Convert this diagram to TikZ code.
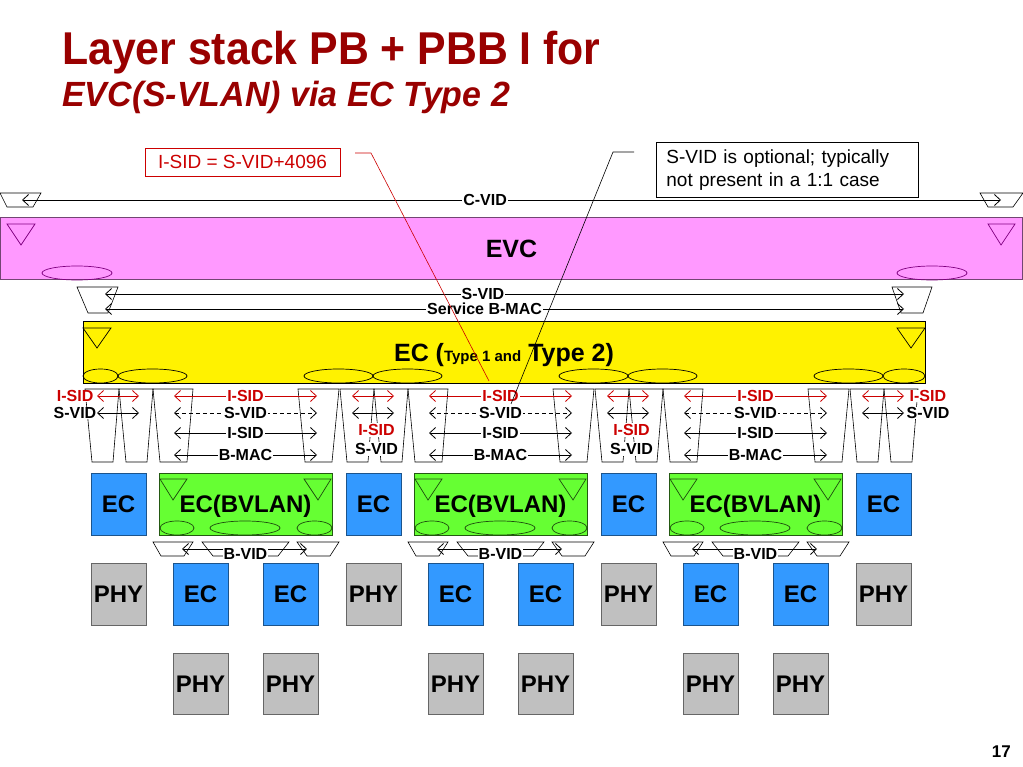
\documentclass[tikz,border=0pt]{standalone}
\usepackage{fontspec}
\setmainfont{Liberation Sans}
\usepackage{graphicx}
\usepackage{tikz}
\usetikzlibrary{arrows.meta}
\definecolor{titlered}{RGB}{153,0,0}
\definecolor{sidred}{RGB}{204,0,0}
\definecolor{evcpink}{RGB}{255,153,255}
\definecolor{evcline}{RGB}{128,0,128}
\definecolor{ecblue}{RGB}{51,153,255}
\definecolor{bvgreen}{RGB}{102,255,51}
\definecolor{phygray}{RGB}{192,192,192}
\tikzset{>={Straight Barb[length=6pt,width=11pt]}}
\tikzset{
    box/.style={rectangle,draw,line width=0.8pt,minimum width=55pt,minimum height=62pt,inner sep=0pt,text height=17.2pt,text depth=0pt,font=\bfseries\fontsize{24}{24}\selectfont},
    ecbox/.style={box,fill=ecblue,draw=ecblue!55!black},
    phybox/.style={box,fill=phygray,draw=black!60},
    bvbox/.style={box,fill=bvgreen,draw=bvgreen!35!black,minimum width=173pt},
    band/.style={rectangle,line width=0.8pt,inner sep=0pt,minimum height=62pt,font=\bfseries\fontsize{25}{25}\selectfont},
    lbl/.style={fill=white,inner sep=1pt,font=\bfseries\fontsize{16}{16}\selectfont},
    redlbl/.style={lbl,text=sidred},
    link/.style={<->,line width=0.8pt},
    redlink/.style={link,draw=sidred},
    dashlink/.style={link,dash pattern=on 4pt off 3pt},
    adapt/.style={draw,line width=0.6pt},
    note/.style={rectangle,draw,line width=0.8pt,inner sep=0pt,font=\fontsize{19}{23}\selectfont},
}
\begin{document}
\begin{tikzpicture}[x=1pt,y=-1pt]
\useasboundingbox[fill=white] (0,0) rectangle (1023,767);
\node[anchor=base west,inner sep=0pt,text=titlered,font=\bfseries\fontsize{46}{46}\selectfont] (title) at (62,65) {\scalebox{0.93}[1]{Layer stack PB + PBB I for}};
\node[anchor=base west,inner sep=0pt,text=titlered,font=\bfseries\itshape\fontsize{35}{35}\selectfont] (subtitle) at (62,107) {\scalebox{0.97}[1]{EVC(S-VLAN) via EC Type 2}};
\node[note,draw=sidred,text=sidred,minimum width=195pt,minimum height=28pt] (sidnote) at (242.5,162) {I-SID = S-VID+4096};
\node[note,anchor=north west,text width=242pt,inner xsep=10pt,minimum height=55pt,align=left] (optnote) at (656,142) {S-VID is optional; typically\\not present in a 1:1 case};
% C-VID
\draw[adapt] (0,193) -- (41,193) -- (33,207) -- (7,207) -- cycle;
\draw[adapt] (980,193) -- (1023,193) -- (1013,207) -- (988,207) -- cycle;
\coordinate (cvidL) at (22,200);
\coordinate (cvidR) at (1001,200);
\draw[link] (cvidL) -- node[lbl,pos=0.473] (cvid) {C-VID} (cvidR);
% EVC
\node[band,fill=evcpink,draw=evcpink!45!black,minimum width=1022pt] (evc) at (511.5,248.5) {EVC};
\draw[evcline,line width=0.7pt] (7,224) -- (35,224) -- (21,245) -- cycle;
\draw[evcline,line width=0.7pt] (988,224) -- (1015,224) -- (1001,245) -- cycle;
\draw[evcline,line width=0.7pt] (77,273) ellipse [x radius=35pt,y radius=7pt];
\draw[evcline,line width=0.7pt] (932,273) ellipse [x radius=35pt,y radius=7pt];
% S-VID and Service B-MAC
\draw[adapt] (77,287) -- (118,287) -- (108,313) -- (88,313) -- cycle;
\draw[adapt] (892,287) -- (932,287) -- (923,313) -- (901,313) -- cycle;
\coordinate (svidL) at (105,294);
\coordinate (svidR) at (904,294);
\coordinate (smacL) at (105,309);
\coordinate (smacR) at (904,309);
\draw[link] (svidL) -- node[lbl,pos=0.473] (svid) {S-VID} (svidR);
\draw[link] (smacL) -- node[lbl,pos=0.475] (smac) {Service B-MAC} (smacR);
% EC type 1 and type 2
\node[band,fill=yellow,draw=black,minimum width=842pt] (ecband) at (504,352) {};
\node[anchor=base,inner sep=0pt,font=\bfseries\fontsize{25}{25}\selectfont] (ectext) at (504,362) {EC ({\fontsize{15}{15}\selectfont Type 1 and} Type 2)};
\draw[line width=0.7pt] (83,328) -- (111,328) -- (97,348) -- cycle;
\draw[line width=0.7pt] (897,328) -- (925,328) -- (911,348) -- cycle;
\foreach \a/\b in {83/118,118/187,304/373,373/442,559/628,628/697,814/883,883/925}
    \draw[line width=0.7pt] ({(\a+\b)/2},376) ellipse [x radius={(\b-\a)/2*1pt},y radius=7pt];
% adaptation towards the lower layer
\foreach \k in {0,...,3}{
    \begin{scope}[shift={(255*\k,0)}]
        \draw[adapt] (85,389) -- (119,389) -- (113,462) -- (92,462) -- cycle;
        \draw[adapt] (119,389) -- (153,389) -- (147,462) -- (126,462) -- cycle;
    \end{scope}
}
\foreach \k in {0,...,2}{
    \begin{scope}[shift={(255*\k,0)}]
        \draw[adapt] (153,389) -- (193,389) -- (187,462) -- (160,462) -- cycle;
        \draw[adapt] (298,389) -- (339,389) -- (332,462) -- (305,462) -- cycle;
    \end{scope}
}
\foreach \k in {0,...,3}{
    \begin{scope}[shift={(255*\k,0)}]
        \coordinate (isidL\k) at (97,396);
        \coordinate (isidR\k) at (139,396);
        \coordinate (svidL\k) at (97,413);
        \coordinate (svidR\k) at (139,413);
        \draw[redlink] (isidL\k) -- (isidR\k);
        \draw[link] (svidL\k) -- (svidR\k);
    \end{scope}
}
\node[redlbl,anchor=east,inner sep=0.5pt,xshift=-3pt] (isidlab0) at (isidL0) {I-SID};
\node[lbl,anchor=east,inner sep=0.5pt] (svidlab0) at (svidL0) {S-VID};
\node[redlbl,anchor=west,inner sep=0.5pt,xshift=5pt] (isidlab3) at (isidR3) {I-SID};
\node[lbl,anchor=west,inner sep=0.5pt,xshift=2pt] (svidlab3) at (svidR3) {S-VID};
\foreach \k in {1,2}{
    \node[redlbl] (isidlab\k) at ({121.5+255*\k},430) {I-SID};
    \node[lbl] (svidlab\k) at ({121.5+255*\k},449) {S-VID};
}
\foreach \k in {0,...,2}{
    \begin{scope}[shift={(255*\k,0)}]
        \foreach \y/\t/\s/\l in {396/I-SID/redlink/redlbl,413/S-VID/dashlink/lbl,433/I-SID/link/lbl,455/B-MAC/link/lbl}{
            \coordinate (gl\k\y) at (174,\y);
            \coordinate (gr\k\y) at (317,\y);
            \draw[\s] (gl\k\y) -- node[\l] {\t} (gr\k\y);
        }
    \end{scope}
}
% boxes
\foreach \k in {0,...,3}{
    \node[ecbox] (ec\k) at ({118.5+255*\k},504) {EC};
    \node[phybox] (phy\k) at ({118.5+255*\k},594) {PHY};
}
\foreach \k in {0,...,2}{
    \node[bvbox] (bvlan\k) at ({245.5+255*\k},504) {EC(BVLAN)};
    \node[ecbox] (eca\k) at ({200.5+255*\k},594) {EC};
    \node[ecbox] (ecb\k) at ({290.5+255*\k},594) {EC};
    \node[phybox,minimum height=61pt] (phya\k) at ({200.5+255*\k},683.5) {PHY};
    \node[phybox,minimum height=61pt] (phyb\k) at ({290.5+255*\k},683.5) {PHY};
    \begin{scope}[shift={(255*\k,0)},bvgreen!30!black,line width=0.7pt]
        \draw (160,479) -- (187,479) -- (173,500) -- cycle;
        \draw (304,479) -- (331,479) -- (318,500) -- cycle;
        \draw (177,528) ellipse [x radius=17pt,y radius=7pt];
        \draw (245,528) ellipse [x radius=35pt,y radius=7pt];
        \draw (314.5,528) ellipse [x radius=17.5pt,y radius=7pt];
    \end{scope}
    \begin{scope}[shift={(255*\k,0)}]
        \draw[adapt] (153,542) -- (193,542) -- (184,556) -- (161,556) -- cycle;
        \draw[adapt] (202,542) -- (289,542) -- (278,556) -- (213,556) -- cycle;
        \draw[adapt] (297,542) -- (339,542) -- (330,556) -- (307,556) -- cycle;
        \coordinate (bvidL\k) at (182,549);
        \coordinate (bvidR\k) at (307,549);
        \draw[link] (bvidL\k) -- (bvidR\k);
        \node[lbl,inner sep=0.5pt] (bvid\k) at (245.5,553.5) {B-VID};
    \end{scope}
}
\node[anchor=base east,inner sep=0pt,font=\bfseries\fontsize{17}{17}\selectfont] (pageno) at (1011,757) {17};
% callouts
\coordinate (sidA) at (355,153);
\coordinate (sidB) at (371,153);
\coordinate (sidC) at (489,381);
\draw[sidred,line width=0.6pt] (sidA) -- (sidB) -- (sidC);
\coordinate (optA) at (634,152);
\coordinate (optB) at (613,152);
\coordinate (optC) at (511,404);
\draw[line width=0.6pt] (optA) -- (optB) -- (optC);
\end{tikzpicture}
\end{document}
